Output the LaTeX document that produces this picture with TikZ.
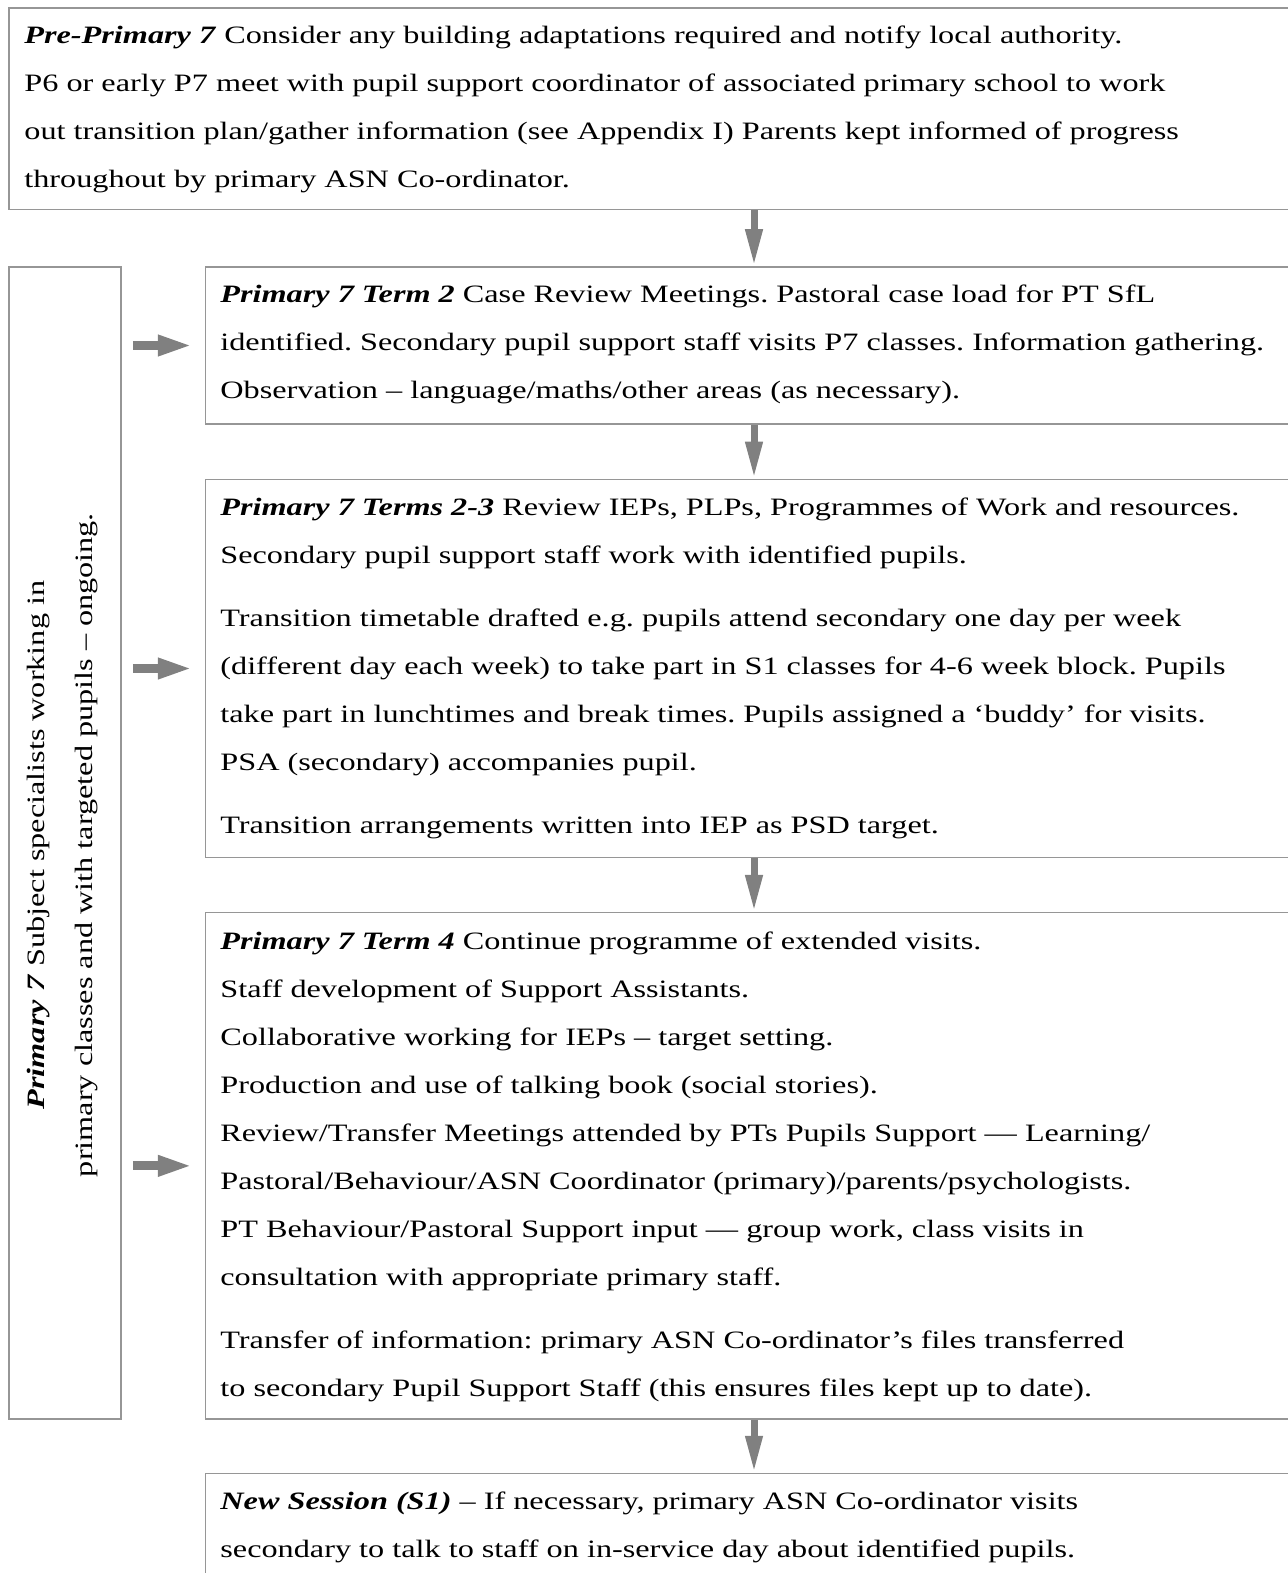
\documentclass[tikz,border=0pt]{standalone}
\usepackage{fontspec}
\setmainfont{Liberation Serif}[FakeStretch=1.29]
\usetikzlibrary{arrows.meta,fit}
\definecolor{boxgray}{RGB}{150,150,150}
\definecolor{arrgray}{RGB}{128,128,128}
\frenchspacing
\newcommand{\boxlines}[1]{\begin{tabular}[t]{@{}l@{}}#1\end{tabular}}
\newcommand{\hd}[1]{\textbf{\textit{#1}}}
\begin{document}
\begin{tikzpicture}[x=0.5pt,y=-0.5pt,
  box/.style={draw=boxgray,line width=0.75pt,inner sep=0pt},
  txt/.style={anchor=base west,inner sep=0pt,font=\fontsize{12.5}{24}\selectfont},
  varr/.style={draw=arrgray,line width=3.5pt,-{Triangle[length=18.5pt,width=8pt]}},
  harr/.style={draw=arrgray,line width=4.5pt,-{Triangle[length=17.5pt,width=9.5pt]},shorten <=5.5pt,shorten >=6pt}]
\useasboundingbox (0,0) rectangle (1288,1573);
\clip (0,0) rectangle (1288,1573);
% boxes
\node[box,fit={(9,8) (1320,209.6)}] (b1) {};
\node[box,fit={(9,267) (121,1419)}] (lb) {};
\node[box,fit={(205.6,267) (1320,424)}] (b2) {};
\node[box,fit={(205.6,479.4) (1320,857.6)}] (b3) {};
\node[box,fit={(205.6,912.7) (1320,1419)}] (b4) {};
\node[box,fit={(205.6,1473.5) (1320,1600)}] (b5) {};
% texts
\node[txt] (t1) at (24,44) {\boxlines{\hd{Pre-Primary 7} Consider any building adaptations required and notify local authority.\\
P6 or early P7 meet with pupil support coordinator of associated primary school to work\\
out transition plan/gather information (see Appendix I) Parents kept informed of progress\\
throughout by primary ASN Co-ordinator.}};
\node[txt] (t2) at (220,302) {\boxlines{\hd{Primary 7 Term 2} Case Review Meetings. Pastoral case load for PT SfL\\
identified. Secondary pupil support staff visits P7 classes. Information gathering.\\
Observation – language/maths/other areas (as necessary).}};
\node[txt] (t3) at (220,515.5) {\boxlines{\hd{Primary 7 Terms 2-3} Review IEPs, PLPs, Programmes of Work and resources.\\
Secondary pupil support staff work with identified pupils.\\[7.5pt]
Transition timetable drafted e.g. pupils attend secondary one day per week\\
(different day each week) to take part in S1 classes for 4-6 week block. Pupils\\
take part in lunchtimes and break times. Pupils assigned a ‘buddy’ for visits.\\
PSA (secondary) accompanies pupil.\\[7.5pt]
Transition arrangements written into IEP as PSD target.}};
\node[txt] (t4) at (220,949) {\boxlines{\hd{Primary 7 Term 4} Continue programme of extended visits.\\
Staff development of Support Assistants.\\
Collaborative working for IEPs – target setting.\\
Production and use of talking book (social stories).\\
Review/Transfer Meetings attended by PTs Pupils Support — Learning/\\
Pastoral/Behaviour/ASN Coordinator (primary)/parents/psychologists.\\
PT Behaviour/Pastoral Support input — group work, class visits in\\
consultation with appropriate primary staff.\\[7.5pt]
Transfer of information: primary ASN Co-ordinator’s files transferred\\
to secondary Pupil Support Staff (this ensures files kept up to date).}};
\node[txt] (t5) at (220,1509.5) {\boxlines{\hd{New Session (S1)} – If necessary, primary ASN Co-ordinator visits\\
secondary to talk to staff on in-service day about identified pupils.}};
\node[inner sep=0pt,align=center,rotate=90,font=\fontsize{12.5}{24}\selectfont] (tl) at (63,845) {\hd{Primary 7} Subject specialists working in\\
primary classes and with targeted pupils – ongoing.};
% arrows
\coordinate (ax) at (754,0);
\draw[varr] (b1.south -| ax) -- (b2.north -| ax);
\draw[varr] (b2.south -| ax) -- (b3.north -| ax);
\draw[varr] (b3.south -| ax) -- (b4.north -| ax);
\draw[varr] (b4.south -| ax) -- (b5.north -| ax);
\draw[harr] (lb.east |- b2.west) -- (b2.west);
\draw[harr] (lb.east |- b3.west) -- (b3.west);
\draw[harr] (lb.east |- b4.west) -- (b4.west);
\end{tikzpicture}
\end{document}
